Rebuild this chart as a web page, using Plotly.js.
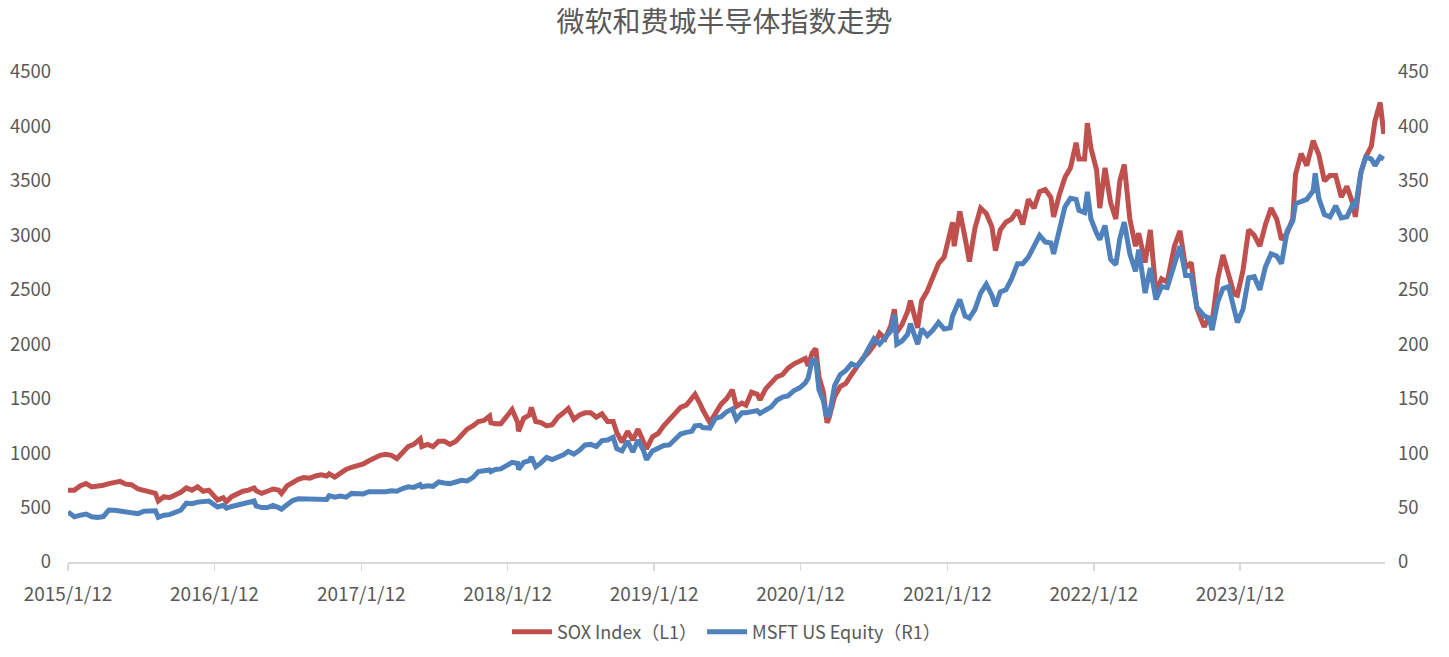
<!DOCTYPE html>
<html>
<head>
<meta charset="utf-8">
<script src="https://cdn.plot.ly/plotly-3.0.1.min.js"></script>
<style>
html,body{margin:0;padding:0;background:#fff;}
#chart{width:1449px;height:657px;}
</style>
</head>
<body>
<div id="chart"></div>
<script>
const dates = [
"2015-01-12","2015-01-28","2015-02-12","2015-02-26","2015-03-12","2015-03-26","2015-04-10","2015-04-24","2015-05-08","2015-05-22",
"2015-06-05","2015-06-19","2015-07-06","2015-07-20","2015-08-04","2015-08-18","2015-08-25","2015-09-08","2015-09-22","2015-10-06",
"2015-10-20","2015-11-03","2015-11-17","2015-12-01","2015-12-15","2015-12-29","2016-01-12","2016-01-20","2016-02-03","2016-02-11",
"2016-02-24","2016-03-09","2016-03-23","2016-04-06","2016-04-20","2016-04-25","2016-05-09","2016-05-23","2016-06-06","2016-06-20",
"2016-06-27","2016-07-11","2016-07-25","2016-08-08","2016-08-22","2016-09-06","2016-09-20","2016-10-04","2016-10-18","2016-10-24",
"2016-11-07","2016-11-21","2016-12-05","2016-12-19","2017-01-03","2017-01-17","2017-01-31","2017-02-14","2017-02-28","2017-03-14",
"2017-03-28","2017-04-11","2017-04-25","2017-05-09","2017-05-23","2017-06-08","2017-06-12","2017-06-26","2017-07-10","2017-07-24",
"2017-08-07","2017-08-21","2017-09-05","2017-09-19","2017-10-03","2017-10-17","2017-10-31","2017-11-14","2017-11-28","2017-12-01",
"2017-12-12","2017-12-26","2018-01-09","2018-01-23","2018-02-06","2018-02-08","2018-02-21","2018-03-07","2018-03-12","2018-03-23",
"2018-04-05","2018-04-19","2018-05-03","2018-05-17","2018-05-31","2018-06-12","2018-06-26","2018-07-10","2018-07-24","2018-08-07",
"2018-08-21","2018-09-04","2018-09-18","2018-10-02","2018-10-11","2018-10-24","2018-11-07","2018-11-20","2018-12-03","2018-12-17",
"2018-12-24","2019-01-08","2019-01-22","2019-02-05","2019-02-19","2019-03-05","2019-03-19","2019-04-02","2019-04-16","2019-04-24",
"2019-05-07","2019-05-13","2019-05-31","2019-06-14","2019-06-28","2019-07-12","2019-07-26","2019-08-05","2019-08-19","2019-08-29",
"2019-09-12","2019-09-26","2019-10-03","2019-10-17","2019-10-31","2019-11-14","2019-11-28","2019-12-12","2019-12-27","2020-01-10",
"2020-01-24","2020-01-31","2020-02-10","2020-02-19","2020-02-27","2020-03-09","2020-03-16","2020-03-18","2020-03-23","2020-04-06",
"2020-04-20","2020-05-04","2020-05-18","2020-06-01","2020-06-15","2020-06-29","2020-07-13","2020-07-27","2020-08-10","2020-08-24",
"2020-09-02","2020-09-08","2020-09-21","2020-10-05","2020-10-12","2020-10-30","2020-11-09","2020-11-23","2020-12-07","2020-12-21",
"2021-01-04","2021-01-19","2021-01-25","2021-01-29","2021-02-12","2021-02-25","2021-03-08","2021-03-22","2021-04-05","2021-04-19",
"2021-05-03","2021-05-12","2021-05-24","2021-06-07","2021-06-21","2021-07-06","2021-07-19","2021-08-02","2021-08-16","2021-08-30",
"2021-09-13","2021-09-27","2021-10-04","2021-10-18","2021-11-01","2021-11-15","2021-11-29","2021-12-06","2021-12-20","2021-12-27",
"2022-01-05","2022-01-19","2022-01-27","2022-02-09","2022-02-23","2022-03-08","2022-03-18","2022-03-29","2022-04-12","2022-04-26",
"2022-05-04","2022-05-20","2022-06-02","2022-06-16","2022-06-30","2022-07-14","2022-08-01","2022-08-15","2022-08-29","2022-09-12",
"2022-09-26","2022-10-14","2022-10-27","2022-11-03","2022-11-17","2022-11-30","2022-12-14","2022-12-28","2023-01-05","2023-01-19",
"2023-02-02","2023-02-16","2023-03-02","2023-03-16","2023-03-30","2023-04-13","2023-04-25","2023-05-09","2023-05-23","2023-05-30",
"2023-06-13","2023-06-27","2023-07-13","2023-07-18","2023-07-27","2023-08-10","2023-08-24","2023-09-07","2023-09-21","2023-10-05",
"2023-10-19","2023-10-26","2023-11-09","2023-11-21","2023-12-05","2023-12-14","2023-12-27","2024-01-05"
];

const soxIndex = [
660,660,700,720,690,695,705,720,730,740,
715,710,670,660,640,630,560,600,590,610,
640,680,660,690,650,660,600,570,590,555,
600,630,650,660,680,655,630,650,670,660,
630,700,730,760,775,770,790,800,790,810,
780,820,850,870,880,900,930,960,980,990,
980,950,1010,1060,1080,1130,1060,1080,1060,1110,
1110,1080,1110,1160,1220,1250,1290,1300,1340,1280,
1270,1270,1330,1400,1280,1200,1320,1350,1420,1290,
1280,1250,1260,1330,1370,1410,1310,1350,1370,1370,
1330,1360,1290,1290,1190,1100,1200,1120,1220,1110,
1040,1150,1180,1250,1310,1360,1420,1440,1510,1540,
1450,1400,1280,1370,1450,1500,1580,1430,1460,1440,
1560,1540,1490,1590,1650,1700,1720,1780,1820,1850,
1870,1800,1920,1960,1700,1560,1340,1280,1320,1520,
1610,1640,1720,1790,1870,1920,1990,2100,2050,2170,
2320,2110,2180,2300,2400,2150,2400,2490,2630,2740,
2800,3000,3120,2900,3220,2980,2760,3070,3250,3200,
3080,2860,3050,3120,3150,3230,3100,3330,3250,3400,
3420,3350,3170,3370,3530,3620,3850,3700,3700,4030,
3800,3600,3250,3620,3300,3150,3500,3650,3150,2900,
3020,2750,3050,2480,2600,2570,2900,3040,2700,2750,
2330,2160,2250,2200,2600,2820,2650,2460,2450,2680,
3050,3000,2900,3100,3250,3150,2960,3020,3150,3560,
3750,3640,3870,3830,3740,3500,3550,3550,3350,3450,
3300,3170,3580,3720,3820,4050,4220,3930
];

const msftEquity = [
46.0,41.5,43.0,44.0,41.5,41.0,41.7,47.8,47.5,47.0,
46.0,46.0,44.4,46.6,47.0,47.0,41.0,43.0,43.5,46.0,
47.5,54.0,53.5,55.0,55.0,56.0,52.5,50.5,52.0,49.5,
51.0,52.0,54.0,54.5,56.0,51.5,50.0,50.0,52.0,50.0,
48.5,52.5,56.5,58.0,57.8,57.5,57.0,57.5,57.5,61.0,
59.5,60.5,59.5,63.0,62.5,62.5,64.5,64.5,64.0,64.5,
65.5,65.0,67.5,69.0,68.5,71.0,69.0,70.0,69.5,73.5,
72.5,72.0,73.5,75.0,74.5,77.5,83.0,84.0,84.5,83.0,
85.0,85.5,88.0,91.5,90.5,85.0,91.5,93.0,96.5,87.5,
91.0,96.0,94.0,96.0,98.5,101.5,99.0,102.5,107.5,108.0,
106.0,111.5,112.0,114.5,104.0,102.0,111.0,101.0,112.0,102.0,
94.0,102.0,105.0,107.0,107.5,112.0,117.5,119.0,120.0,125.0,
125.5,123.5,123.0,132.0,133.5,138.0,140.5,131.0,137.0,137.0,
137.5,139.0,136.5,139.5,142.5,148.5,151.5,152.5,157.5,160.0,
164.5,169.0,185.5,185.0,158.0,148.0,133.5,138.0,133.0,162.0,
172.0,176.0,182.0,180.0,186.0,196.0,205.0,200.0,206.0,212.0,
227.0,200.0,203.0,209.0,219.0,200.0,214.0,208.0,213.0,220.0,
214.0,215.0,226.0,229.0,241.0,226.0,224.0,232.0,247.0,255.0,
245.0,235.0,248.0,250.0,260.0,274.0,274.0,280.0,290.0,300.0,
294.0,293.0,283.0,303.0,326.0,334.0,333.0,323.0,321.0,340.0,
315.0,302.0,296.0,309.0,278.0,273.0,297.0,312.0,283.0,267.0,
287.0,247.0,270.0,241.0,253.0,252.0,275.0,290.0,263.0,263.0,
234.0,226.0,224.0,213.0,239.0,251.0,253.0,232.0,220.0,232.0,
261.0,262.0,250.0,271.0,283.0,281.0,274.0,304.0,313.0,329.0,
331.0,333.0,341.0,357.0,334.0,319.0,317.0,327.0,316.0,317.0,
328.0,325.0,358.0,372.0,370.0,364.0,372.0,370.0
];

const xTickDates = ["2015-01-12","2016-01-12","2017-01-12","2018-01-12","2019-01-12","2020-01-12","2021-01-12","2022-01-12","2023-01-12"];
const xTickLabels = ["2015/1/12","2016/1/12","2017/1/12","2018/1/12","2019/1/12","2020/1/12","2021/1/12","2022/1/12","2023/1/12"];
const seriesNames = ["SOX Index（L1）","MSFT US Equity（R1）"];
const chartTitle = "微软和费城半导体指数走势";

const FONT = '"Noto Sans CJK SC", "Noto Sans", sans-serif';
const TXT = '#595959';

const traces = [
  {x: dates, y: soxIndex, name: seriesNames[0], type: 'scatter', mode: 'lines',
   line: {color: '#C0504D', width: 5}, yaxis: 'y'},
  {x: dates, y: msftEquity, name: seriesNames[1], type: 'scatter', mode: 'lines',
   line: {color: '#4F81BD', width: 5}, yaxis: 'y2'}
];

const layout = {
  width: 1449, height: 657,
  margin: {l: 68, r: 64, t: 72, b: 95, pad: 0, autoexpand: false},
  paper_bgcolor: '#ffffff', plot_bgcolor: '#ffffff',
  font: {family: FONT, color: TXT, size: 18},
  title: {text: chartTitle, x: 0.5, xanchor: 'center', y: 0.966, yanchor: 'middle',
          font: {family: FONT, size: 28, color: TXT}},
  showlegend: true,
  legend: {orientation: 'h', x: 0.5, xanchor: 'center', y: -0.143, yanchor: 'middle',
           itemwidth: 40,
           font: {family: FONT, size: 18, color: TXT}, traceorder: 'normal'},
  xaxis: {type: 'date', range: ['2015-01-12', '2024-01-08'],
          tickmode: 'array', tickvals: xTickDates, ticktext: xTickLabels,
          showgrid: false, zeroline: false, showline: true, linecolor: '#d9d9d9', linewidth: 2,
          ticks: 'outside', ticklen: 7, tickwidth: 1.5, tickcolor: '#d9d9d9',
          ticklabelstandoff: 7, automargin: false,
          tickfont: {family: FONT, size: 19, color: TXT}},
  yaxis: {range: [0, 4500], dtick: 500, tick0: 0, showgrid: false, zeroline: false,
          showline: false, ticks: '', ticklabelstandoff: 16, automargin: false,
          tickfont: {family: FONT, size: 18.5, color: TXT}},
  yaxis2: {range: [0, 450], dtick: 50, tick0: 0, overlaying: 'y', side: 'right',
           showgrid: false, zeroline: false, showline: false, ticks: '', ticklabelstandoff: 12,
           automargin: false,
           tickfont: {family: FONT, size: 18.5, color: TXT}},
  hovermode: false
};

Plotly.newPlot('chart', traces, layout, {staticPlot: true, displayModeBar: false});
</script>
</body>
</html>
